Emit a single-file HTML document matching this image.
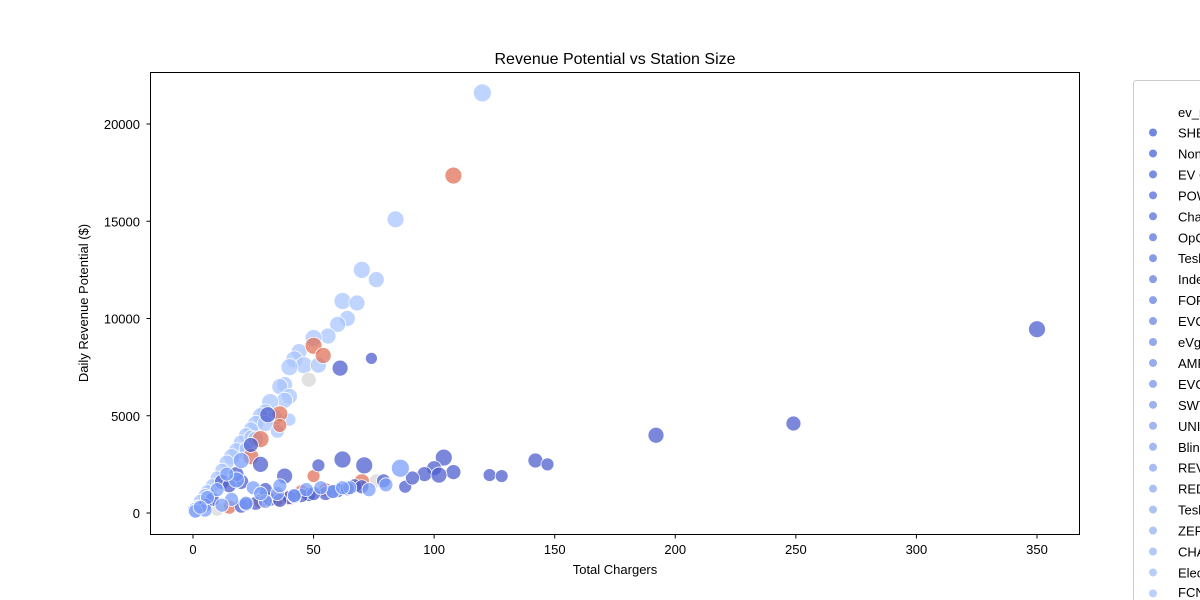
<!DOCTYPE html>
<html><head><meta charset="utf-8"><style>
html,body{margin:0;padding:0;width:1200px;height:600px;overflow:hidden;background:#fff;font-family:"Liberation Sans",sans-serif}
svg{display:block}
svg text{font-family:"Liberation Sans",sans-serif}
</style></head><body>
<svg id="chart" width="1200" height="600" xmlns="http://www.w3.org/2000/svg">
<text x="615" y="64" font-size="16" text-anchor="middle">Revenue Potential vs Station Size</text>
<g id="marks"></g>
<rect x="150.5" y="72.5" width="929" height="462" fill="none" stroke="#000" stroke-width="1"/>
<g id="axes"></g>
<text x="615" y="574" font-size="13" text-anchor="middle">Total Chargers</text>
<text transform="translate(88,303) rotate(-90)" font-size="13" text-anchor="middle">Daily Revenue Potential ($)</text>
<g id="legend"></g>
</svg>
<script>
const xTicks=[0,50,100,150,200,250,300,350];
const yTicks=[0,5000,10000,15000,20000];
const groups=["lb","red","gray","db","mb"];
const xs=[120,84,70,76,62,68,64,60,56,50,44,42,46,40,52,38,36,40,38,32,30,28,34,40,26,24,22,20,18,16,14,12,10,8,6,5,3,2,1,24,30,35,22,26,
108,50,54,36,36,28,24,50,35,40,15,28,55,70,45,
48,10,76,
74,61,31,24,28,38,62,71,104,108,100,96,102,142,147,123,128,192,249,350,88,91,79,67,60,55,48,45,40,32,30,20,18,12,15,8,5,20,26,42,50,58,64,70,36,22,
52,86,80,35,42,30,22,16,12,5,1,18,20,14,10,6,3,25,28,65,73,58,47,36,53,62];
const ys=[21600,15100,12500,12000,10900,10800,10000,9700,9100,9000,8300,7900,7600,7500,7600,6600,6500,6000,5800,5700,5200,5000,4900,4800,4600,4300,4000,3600,3200,2900,2600,2200,1800,1400,1100,900,600,300,150,3900,4600,4200,3300,3800,
17350,8600,8100,5100,4500,3800,2900,1900,800,800,300,600,1200,1600,1100,
6850,200,1650,
7950,7450,5050,3500,2500,1900,2750,2450,2850,2100,2300,2000,1950,2700,2500,1950,1900,4000,4600,9450,1350,1800,1650,1400,1150,1000,950,900,800,700,1200,1600,2000,1600,1400,700,400,350,500,850,1000,1100,1250,1350,650,450,
2450,2300,1450,1000,900,600,500,700,400,150,100,1700,2700,2000,1200,800,300,1300,1000,1300,1200,1100,1200,1400,1300,1300];
const sizes=[9,8.5,8.5,8,8.5,8,8,8,8,8.5,8,8.5,8.5,8.5,8,8,8,8,8,8.5,8,8,8,6.5,8,7.5,7.5,8,8,8,7.5,7,7,7,7,7,7,7,8,7,8,7,7,8,
8.5,8.5,8,8,7,8.5,8,6.5,8.5,8,7,7,7,8,7,
7.5,7,7,
6,8,8,7.5,8,8,8.5,8.5,8.5,7.5,7.5,7.5,8,7.5,6.5,6.5,6.5,8,7.5,8.5,6.5,7,7,7,7,7,7,7,7,7,7,7.5,7.5,7.5,7,7,7,7,7,7,7,7,7,7,7,7,
6.5,9,7,7,7,7,7,7,7,7,7,8,8,7,7,7,7,7,7,7,7,7,7,7,7,7];
const grp=[];
[44,15,3,47,26].forEach((n,i)=>{for(let k=0;k<n;k++)grp.push(groups[i]);});
const colors={lb:"#a9c6fd",red:"#e0735a",gray:"#d8d7d7",db:"#4d5fcf",mb:"#7b9ff9"};
const X=v=>193+v*(1037-193)/350;
const Y=v=>513-v*(513-124)/20000;
const NS="http://www.w3.org/2000/svg";
const marks=document.getElementById('marks');
for(let i=0;i<xs.length;i++){
  const c=document.createElementNS(NS,'circle');
  c.setAttribute('cx',X(xs[i]));c.setAttribute('cy',Y(ys[i]));c.setAttribute('r',sizes[i]);
  c.setAttribute('fill',colors[grp[i]]);c.setAttribute('fill-opacity','0.75');
  c.setAttribute('stroke','#fff');c.setAttribute('stroke-width','0.8');
  
  
  marks.appendChild(c);
}
const axes=document.getElementById('axes');
xTicks.forEach(t=>{
  const l=document.createElementNS(NS,'line');
  l.setAttribute('x1',X(t));l.setAttribute('x2',X(t));l.setAttribute('y1',534.5);l.setAttribute('y2',538.5);l.setAttribute('stroke','#000');
  
  
  axes.appendChild(l);
  const tx=document.createElementNS(NS,'text');
  tx.setAttribute('x',X(t));tx.setAttribute('y',554);tx.setAttribute('font-size','13');tx.setAttribute('text-anchor','middle');
  tx.textContent=t;
  
  
  axes.appendChild(tx);
});
yTicks.forEach(t=>{
  const l=document.createElementNS(NS,'line');
  l.setAttribute('x1',146.5);l.setAttribute('x2',150.5);l.setAttribute('y1',Y(t));l.setAttribute('y2',Y(t));l.setAttribute('stroke','#000');
  
  
  axes.appendChild(l);
  const tx=document.createElementNS(NS,'text');
  tx.setAttribute('x',140);tx.setAttribute('y',Y(t)+5);tx.setAttribute('font-size','13');tx.setAttribute('text-anchor','end');
  tx.textContent=t;
  
  
  axes.appendChild(tx);
});
const legendLabels=["SHELL Recharge","Non-Networked","EV Connect","POWERFLEX","ChargePoint Network","OpConnect","Tesla","Independent","FORD","EVCS","eVgo Network","AMPUP","EVGATEWAY","SWTCH","UNIVERSAL","Blink Network","REVEL","RED_E","Tesla Destination","ZEFNET","CHARGELAB","Electrify America","FCN"];
const lg=document.getElementById('legend');
const box=document.createElementNS(NS,'path');
box.setAttribute('d','M1200,80.5 H1136.5 Q1133.5,80.5 1133.5,83.5 V600');
box.setAttribute('fill','#fff');box.setAttribute('stroke','#ccc');


lg.appendChild(box);
const ttl=document.createElementNS(NS,'text');
ttl.setAttribute('x',1178);ttl.setAttribute('y',117);ttl.setAttribute('font-size','13');ttl.textContent='ev_network';


lg.appendChild(ttl);
const c0=[115,134,223],c1=[187,208,250];
legendLabels.forEach((lab,i)=>{
  const f=i/(legendLabels.length-1);
  const col=`rgb(${c0.map((v,k)=>Math.round(v+(c1[k]-v)*f)).join(',')})`;
  const y=132.5+i*20.95;
  const c=document.createElementNS(NS,'circle');
  c.setAttribute('cx',1153);c.setAttribute('cy',y);c.setAttribute('r',4);c.setAttribute('fill',col);
  
  
  lg.appendChild(c);
  const t=document.createElementNS(NS,'text');
  t.setAttribute('x',1178);t.setAttribute('y',Math.min(y+5,597));t.setAttribute('font-size','13');t.textContent=lab;
  
  
  lg.appendChild(t);
});
</script>
</body></html>
